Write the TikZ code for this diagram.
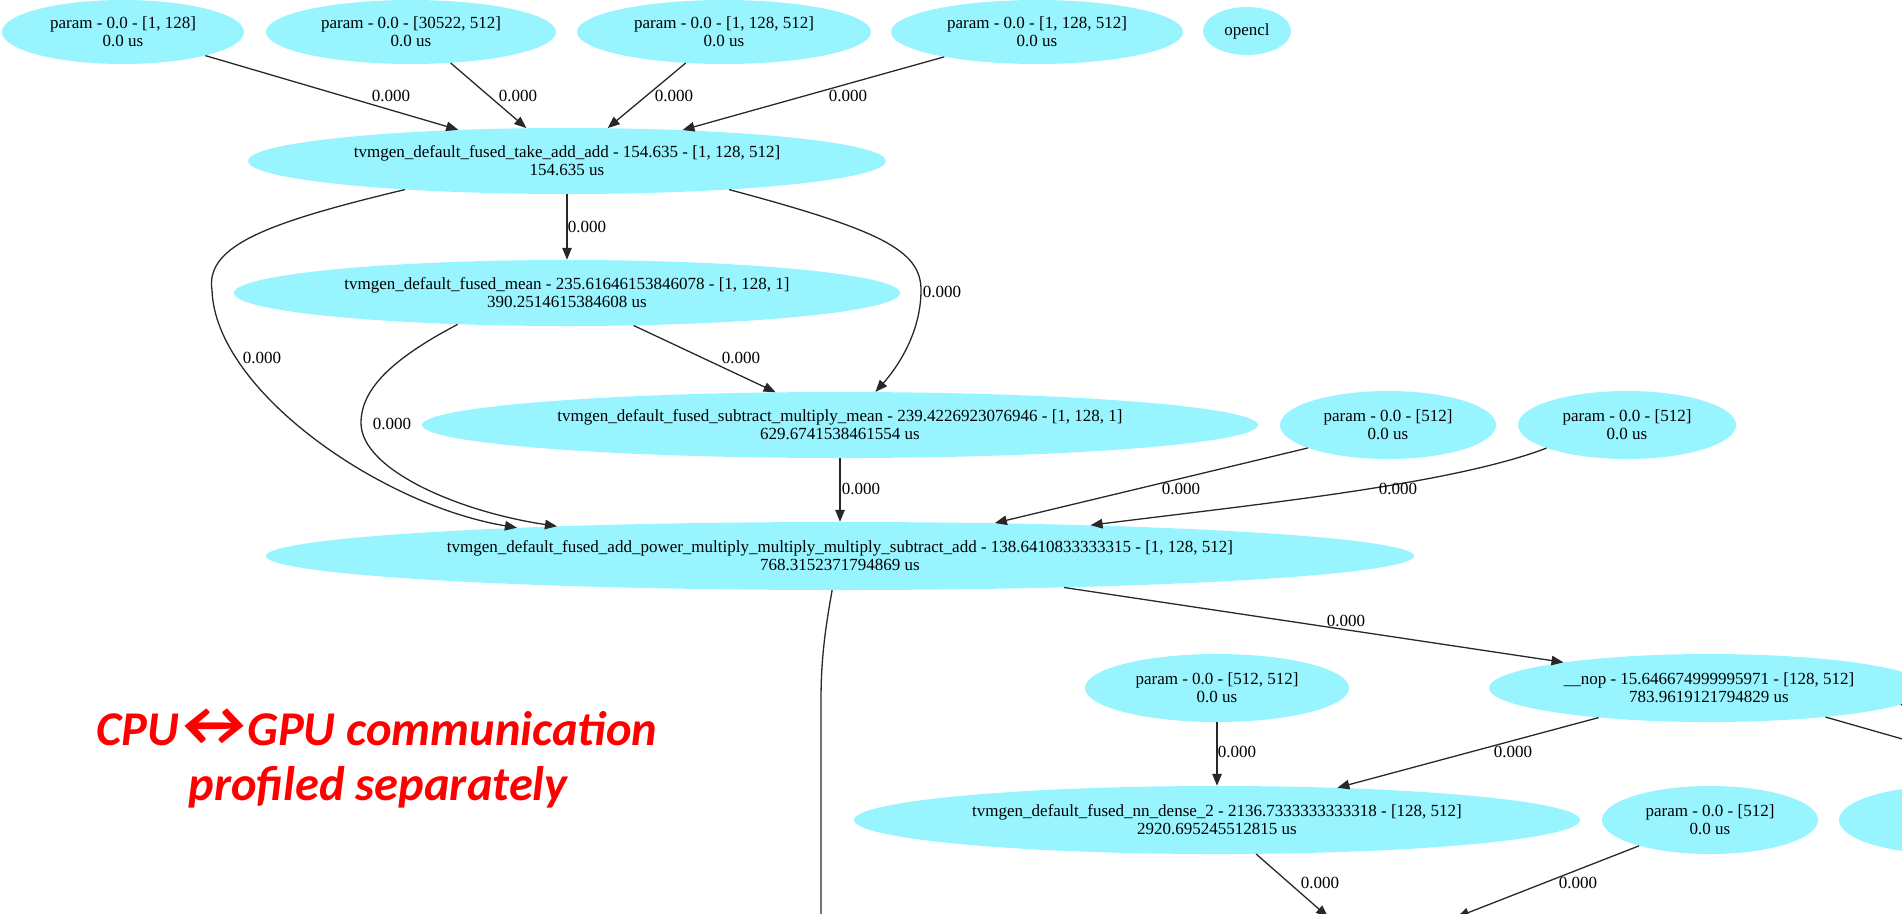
\documentclass[tikz,border=0pt]{standalone}
\usepackage{graphicx}
\usepackage{fontspec}
\setmainfont{Liberation Serif}
\newfontfamily\calloutfont{Carlito}
\usetikzlibrary{shapes.geometric,arrows.meta}
\definecolor{opfill}{RGB}{152,245,255}
\definecolor{edgecol}{RGB}{40,40,40}
\definecolor{calloutred}{RGB}{255,0,0}
% wide double arrow used inside the note, set in a box about as wide as its ink
\newcommand{\widedblarrow}{\kern0.05em\makebox[1.3em][c]{\scalebox{1.55}[1.3]{↔}}\kern0.05em}
\begin{document}
\begin{tikzpicture}[x=1pt,y=-1pt,
  gvfont/.style={font=\fontsize{17}{18}\selectfont},
  op/.style={ellipse,fill=opfill,inner sep=0pt,align=center,gvfont,
             minimum width=2*#1},
  op/.default=200pt,
  tall/.style={minimum height=68pt},
  lbl/.style={gvfont,inner sep=0pt},
  edge/.style={draw=edgecol,line width=1.3pt,-{Triangle[length=12pt,width=9.5pt]}},
  plain/.style={draw=edgecol,line width=1.3pt},
  callout/.style={font=\calloutfont\fontsize{48.5}{56}\selectfont\bfseries\itshape,
                  text=calloutred,inner sep=0pt,anchor=base}]
\useasboundingbox (0,0) rectangle (1902,913);
\clip (0,0) rectangle (1902,913);

% ---- input parameters and the first fused kernel
\node[op=121pt,minimum height=64pt] (p1) at (123,32) {param - 0.0 - [1, 128]\\0.0 us};
\node[op=145pt,minimum height=64pt] (p2) at (411,32) {param - 0.0 - [30522, 512]\\0.0 us};
\node[op=147pt,minimum height=64pt] (p3) at (724,32) {param - 0.0 - [1, 128, 512]\\0.0 us};
\node[op=146pt,minimum height=64pt] (p4) at (1037,32) {param - 0.0 - [1, 128, 512]\\0.0 us};
\node[op=44pt,minimum height=48pt] (ocl) at (1247,31) {opencl};

\node[op=319pt,minimum height=66pt] (take) at (567,161)
  {tvmgen\_default\_fused\_take\_add\_add - 154.635 - [1, 128, 512]\\154.635 us};
\node[op=333pt,minimum height=66pt] (mean) at (567,293)
  {tvmgen\_default\_fused\_mean - 235.61646153846078 - [1, 128, 1]\\390.2514615384608 us};
\node[op=418pt,minimum height=66pt] (sub) at (840,425)
  {tvmgen\_default\_fused\_subtract\_multiply\_mean - 239.4226923076946 - [1, 128, 1]\\629.6741538461554 us};
\node[op=108pt,tall] (pa) at (1388,425) {param - 0.0 - [512]\\0.0 us};
\node[op=109pt,tall] (pb) at (1627,425) {param - 0.0 - [512]\\0.0 us};
\node[op=574pt,tall] (addp) at (840,556)
  {tvmgen\_default\_fused\_add\_power\_multiply\_multiply\_multiply\_subtract\_add - 138.6410833333315 - [1, 128, 512]\\768.3152371794869 us};

% ---- dense block
\node[op=132pt,tall] (pmm) at (1217,688) {param - 0.0 - [512, 512]\\0.0 us};
\node[op=220pt,tall] (nop) at (1709,688) {\_\_nop - 15.646674999995971 - [128, 512]\\783.9619121794829 us};
\node[op=363pt,tall] (dense) at (1217,820)
  {tvmgen\_default\_fused\_nn\_dense\_2 - 2136.7333333333318 - [128, 512]\\2920.695245512815 us};
\node[op=108pt,tall] (pc) at (1710,820) {param - 0.0 - [512]\\0.0 us};
\node[op=108pt,tall] (pd) at (1947,820) {};

% continuation points below and right of the view
\coordinate (down1) at (821,960);
\coordinate (bt1) at (1328,917);
\coordinate (bt2) at (1457,917);
\coordinate (rt1) at (1990,764);
\coordinate (rt2) at (1990,684);

% ---- connectors
\draw[edge] (p1.-16) -- (take.164);
\draw[edge] (p2.-38.5) -- (take.141.3);
\draw[edge] (p3.219.4) -- (take.39.4);
\draw[edge] (p4.195.2) -- (take.15);
\draw[edge] (take.south) -- (mean.north);
\draw[edge] (take.190.1) .. controls (270,222) and (205,245) .. (212,290)
                         .. controls (215,390) and (380,505) .. (addp.175.2);
\draw[edge] (take.-10.1) .. controls (880,230) and (921,250) .. (921,290)
                         .. controls (921,335) and (895,370) .. (sub.43.4);
\draw[edge] (mean.-26.6) -- (sub.153.1);
\draw[edge] (mean.196) .. controls (390,360) and (361,390) .. (361,423)
                       .. controls (361,470) and (460,512) .. (addp.174.2);
\draw[edge] (sub.south) -- (addp.north);
\draw[edge] (pa.196) -- (addp.12.2);
\draw[edge] (pb.196.6) .. controls (1450,485) and (1250,505) .. (addp.7.04);
\draw[edge] (addp.-8.64) -- (nop.170.7);
\draw[plain] (addp.-103.2) .. controls (825,630) and (821,660) .. (821,700) -- (down1);
\draw[edge] (pmm.south) -- (dense.north);
\draw[edge] (nop.195.3) -- (dense.15.1);
\draw[plain] (nop.-14.9) -- (rt1);
\draw[plain] (nop.-5.1) -- (rt2);
\draw[edge] (dense.-41) -- (bt1);
\draw[edge] (pc.200.2) -- (bt2);

% ---- edge weights
\node[lbl] (l1) at (391,96) {0.000};
\node[lbl] (l2) at (518,96) {0.000};
\node[lbl] (l3) at (674,96) {0.000};
\node[lbl] (l4) at (848,96) {0.000};
\node[lbl] (l5) at (587,227) {0.000};
\node[lbl] (l6) at (262,358) {0.000};
\node[lbl] (l7) at (942,292) {0.000};
\node[lbl] (l8) at (741,358) {0.000};
\node[lbl] (l9) at (392,424) {0.000};
\node[lbl] (l10) at (861,489) {0.000};
\node[lbl] (l11) at (1181,489) {0.000};
\node[lbl] (l12) at (1398,489) {0.000};
\node[lbl] (l13) at (1346,621) {0.000};
\node[lbl] (l14) at (1237,752) {0.000};
\node[lbl] (l15) at (1513,752) {0.000};
\node[lbl] (l16) at (1320,883) {0.000};
\node[lbl] (l17) at (1578,883) {0.000};

% ---- note
\node[callout] (note1) at (377,745) {CPU\widedblarrow GPU communication};
\node[callout] (note2) at (378,800) {profiled separately};
\end{tikzpicture}
\end{document}
